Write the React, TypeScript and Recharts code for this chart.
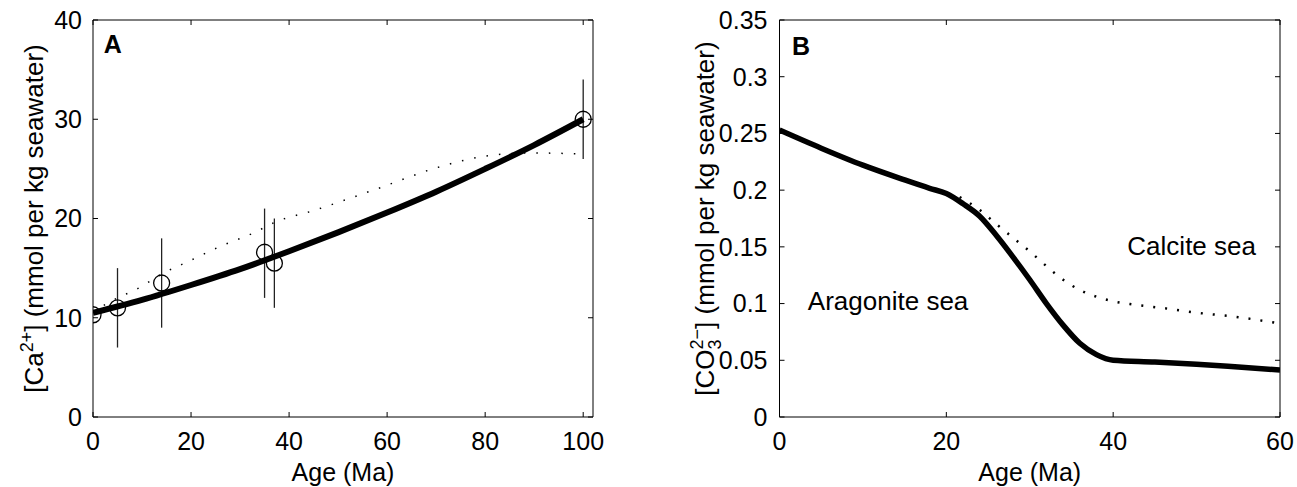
import React from "react";
import {
  ComposedChart,
  Line,
  Scatter,
  ErrorBar,
  XAxis,
  YAxis,
  ReferenceDot,
} from "recharts";

const FONT = '"Liberation Sans", Arial, Helvetica, sans-serif';

// Panel A: [Ca2+] vs age
const caModelAge = [0, 10, 20, 30, 40, 50, 60, 70, 80, 90, 100];
const caModel = [10.5, 11.8, 13.3, 14.9, 16.7, 18.6, 20.6, 22.7, 25.0, 27.4, 30.0];
const caAltAge = [0, 5, 9, 14, 20, 26, 33, 37, 45, 58, 70, 79, 84, 90, 100];
const caAlt = [10.6, 12.0, 12.9, 14.4, 15.8, 17.2, 18.6, 19.6, 20.8, 23.0, 25.1, 26.2, 26.5, 26.6, 26.5];
const caObsAge = [0, 5, 14, 35, 37, 100];
const caObs = [10.3, 11.0, 13.5, 16.6, 15.5, 30.0];
const caObsLow = [10.3, 7.0, 9.0, 12.0, 11.0, 26.0];
const caObsHigh = [10.3, 15.0, 18.0, 21.0, 20.0, 34.0];
const caXTicks = [0, 20, 40, 60, 80, 100];
const caYTicks = [0, 10, 20, 30, 40];

// Panel B: [CO3 2-] vs age
const co3Age = [0, 5, 10, 15, 18, 20, 22, 24, 26, 28, 30, 32, 34, 36, 38, 40, 45, 50, 55, 60];
const co3Model = [
  0.253, 0.237, 0.222, 0.209, 0.2016, 0.197, 0.188, 0.177, 0.16, 0.141, 0.121, 0.1, 0.081,
  0.065, 0.055, 0.05, 0.0485, 0.0465, 0.044, 0.0414,
];
const co3AltAge = [21.6, 24, 26, 28, 30, 32, 34, 36, 38, 40, 42, 46, 50, 55, 59.5];
const co3Alt = [0.194, 0.1825, 0.17, 0.158, 0.146, 0.133, 0.121, 0.112, 0.106, 0.102, 0.0996, 0.096, 0.092, 0.088, 0.083];
const co3XTicks = [0, 20, 40, 60];
const co3YTicks = [0, 0.05, 0.1, 0.15, 0.2, 0.25, 0.3, 0.35];

const toPts = (xs: number[], ys: number[]) => xs.map((x, i) => ({ x, y: ys[i] }));

const caModelData = toPts(caModelAge, caModel);
const caAltData = toPts(caAltAge, caAlt);
const caObsData = caObsAge.map((x, i) => ({
  x,
  y: caObs[i],
  err: [caObs[i] - caObsLow[i], caObsHigh[i] - caObs[i]],
}));
const co3ModelData = toPts(co3Age, co3Model);
const co3AltData = toPts(co3AltAge, co3Alt);

const tickStyle = { fontSize: 25, fill: "#000", fontFamily: FONT };
const axisStroke = { stroke: "#000", strokeWidth: 1 };
const blank = () => "";

function AgeTitle({ viewBox }: any) {
  return (
    <text
      x={viewBox.x + viewBox.width / 2}
      y={481}
      textAnchor="middle"
      fontSize={25}
      fontFamily={FONT}
      fill="#000"
    >
      Age (Ma)
    </text>
  );
}

function CaTitle({ viewBox }: any) {
  const cx = viewBox.x + viewBox.width - 50;
  const cy = viewBox.y + viewBox.height / 2;
  return (
    <text
      x={cx}
      y={cy}
      transform={`rotate(-90 ${cx} ${cy})`}
      textAnchor="middle"
      fontSize={26}
      fontFamily={FONT}
      fill="#000"
    >
      [Ca
      <tspan dy={-10} fontSize={18}>
        2+
      </tspan>
      <tspan dy={10}>] (mmol per kg seawater)</tspan>
    </text>
  );
}

function Co3Title({ viewBox }: any) {
  const cx = viewBox.x + viewBox.width - 66;
  const cy = viewBox.y + viewBox.height / 2;
  return (
    <text
      x={cx}
      y={cy}
      transform={`rotate(-90 ${cx} ${cy})`}
      textAnchor="middle"
      fontSize={26}
      fontFamily={FONT}
      fill="#000"
    >
      [CO
      <tspan dy={7} fontSize={18}>
        3
      </tspan>
      <tspan dx={-10} dy={-18} fontSize={18}>
        2−
      </tspan>
      <tspan dy={11}>] (mmol per kg seawater)</tspan>
    </text>
  );
}

const textAt =
  (value: string, size: number, bold = false) =>
  ({ viewBox }: any) =>
    (
      <text
        x={viewBox.x}
        y={viewBox.y}
        fontSize={size}
        fontWeight={bold ? "bold" : "normal"}
        fontFamily={FONT}
        fill="#000"
      >
        {value}
      </text>
    );

function Circle(props: any) {
  const { cx, cy } = props;
  return <circle cx={cx} cy={cy} r={8} fill="none" stroke="#000" strokeWidth={1.3} />;
}

function PanelA() {
  return (
    <ComposedChart width={650} height={487} margin={{ top: 10, right: 47, bottom: 40, left: 33 }}>
      <XAxis
        type="number"
        dataKey="x"
        domain={[0, 102]}
        ticks={caXTicks}
        height={30}
        tickSize={-5}
        tickMargin={20}
        tick={tickStyle}
        axisLine={axisStroke}
        tickLine={axisStroke}
        allowDataOverflow
        label={{ content: AgeTitle }}
      />
      <XAxis
        xAxisId="top"
        orientation="top"
        type="number"
        dataKey="x"
        domain={[0, 102]}
        ticks={caXTicks}
        height={10}
        tickSize={-5}
        tickFormatter={blank}
        axisLine={axisStroke}
        tickLine={axisStroke}
        allowDataOverflow
      />
      <YAxis
        type="number"
        domain={[0, 40]}
        ticks={caYTicks}
        width={60}
        tickSize={-5}
        tickMargin={16}
        tick={tickStyle}
        axisLine={axisStroke}
        tickLine={axisStroke}
        allowDataOverflow
        label={{ content: CaTitle }}
      />
      <YAxis
        yAxisId="right"
        orientation="right"
        type="number"
        domain={[0, 40]}
        ticks={caYTicks}
        width={10}
        tickSize={-5}
        tickFormatter={blank}
        axisLine={axisStroke}
        tickLine={axisStroke}
        allowDataOverflow
      />
      <Line
        data={caAltData}
        dataKey="y"
        type="monotone"
        stroke="#000"
        strokeWidth={1.5}
        strokeDasharray="1.5 11"
        dot={false}
        activeDot={false}
        isAnimationActive={false}
      />
      <Scatter data={caObsData} dataKey="y" fill="none" shape={Circle} isAnimationActive={false}>
        <ErrorBar dataKey="err" direction="y" width={0} stroke="#222" strokeWidth={1.3} isAnimationActive={false} />
      </Scatter>
      <Line
        data={caModelData}
        dataKey="y"
        type="monotone"
        stroke="#000"
        strokeWidth={6}
        dot={false}
        activeDot={false}
        isAnimationActive={false}
      />
      <ReferenceDot x={2.2} y={36.7} r={0} stroke="none" fill="none" label={{ content: textAt("A", 25, true) }} />
    </ComposedChart>
  );
}

function PanelB() {
  return (
    <ComposedChart width={647} height={487} margin={{ top: 10, right: 7, bottom: 40, left: 69.5 }}>
      <XAxis
        type="number"
        dataKey="x"
        domain={[0, 60]}
        ticks={co3XTicks}
        height={30}
        tickSize={-5}
        tickMargin={20}
        tick={tickStyle}
        axisLine={axisStroke}
        tickLine={axisStroke}
        allowDataOverflow
        label={{ content: AgeTitle }}
      />
      <XAxis
        xAxisId="top"
        orientation="top"
        type="number"
        dataKey="x"
        domain={[0, 60]}
        ticks={co3XTicks}
        height={10}
        tickSize={-5}
        tickFormatter={blank}
        axisLine={axisStroke}
        tickLine={axisStroke}
        allowDataOverflow
      />
      <YAxis
        type="number"
        domain={[0, 0.35]}
        ticks={co3YTicks}
        width={60}
        tickSize={-5}
        tickMargin={17}
        tick={tickStyle}
        axisLine={axisStroke}
        tickLine={axisStroke}
        allowDataOverflow
        label={{ content: Co3Title }}
      />
      <YAxis
        yAxisId="right"
        orientation="right"
        type="number"
        domain={[0, 0.35]}
        ticks={co3YTicks}
        width={10}
        tickSize={-5}
        tickFormatter={blank}
        axisLine={axisStroke}
        tickLine={axisStroke}
        allowDataOverflow
      />
      <Line
        data={co3AltData}
        dataKey="y"
        type="monotone"
        stroke="#000"
        strokeWidth={2.5}
        strokeDasharray="2 10"
        dot={false}
        activeDot={false}
        isAnimationActive={false}
      />
      <Line
        data={co3ModelData}
        dataKey="y"
        type="monotone"
        stroke="#000"
        strokeWidth={5.5}
        dot={false}
        activeDot={false}
        isAnimationActive={false}
      />
      <ReferenceDot x={1.5} y={0.319} r={0} stroke="none" fill="none" label={{ content: textAt("B", 25, true) }} />
      <ReferenceDot x={3.4} y={0.0943} r={0} stroke="none" fill="none" label={{ content: textAt("Aragonite sea", 26) }} />
      <ReferenceDot x={41.7} y={0.143} r={0} stroke="none" fill="none" label={{ content: textAt("Calcite sea", 26) }} />
    </ComposedChart>
  );
}

export default function App() {
  return (
    <div style={{ position: "absolute", left: 0, top: 0, width: 1297, height: 487, background: "#fff" }}>
      <div style={{ position: "absolute", left: 0, top: 0 }}>
        <PanelA />
      </div>
      <div style={{ position: "absolute", left: 650, top: 0 }}>
        <PanelB />
      </div>
    </div>
  );
}
